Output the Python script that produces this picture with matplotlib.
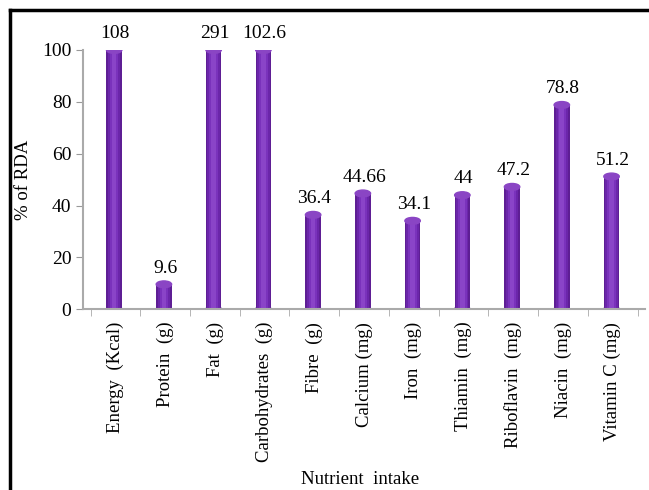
import numpy as np
import matplotlib.pyplot as plt
from matplotlib.patches import Ellipse
from matplotlib.lines import Line2D

nutrients = ["Energy  (Kcal)", "Protein  (g)", "Fat  (g)", "Carbohydrates  (g)", "Fibre  (g)",
             "Calcium (mg)", "Iron  (mg)", "Thiamin  (mg)", "Riboflavin  (mg)", "Niacin  (mg)",
             "Vitamin C (mg)"]
values = [108, 9.6, 291, 102.6, 36.4, 44.66, 34.1, 44, 47.2, 78.8, 51.2]
value_labels = ["108", "9.6", "291", "102.6", "36.4", "44.66", "34.1", "44", "47.2", "78.8", "51.2"]

plt.rcParams["font.family"] = ["Liberation Serif", "DejaVu Serif"]

fig = plt.figure(figsize=(6.49, 4.90), dpi=100)
ax = fig.add_axes([0.128, 0.369, 0.866, 0.529])

x = np.arange(len(nutrients))
heights = np.minimum(values, 100)
w = 0.31

# cylinder look: stacked bars getting lighter towards the middle
shades = [(1.00, "#5e1e94"), (0.80, "#6b26aa"), (0.55, "#7a32bc"), (0.30, "#8a44c8")]
for frac, col in shades:
    ax.bar(x - w * 0.08, heights, width=w * frac, color=col, zorder=2)
for xi, h in zip(x, heights):
    ax.add_patch(Ellipse((xi - w * 0.08, h), w, 2.6, color="#8a45c4", zorder=3))
    ax.add_patch(Ellipse((xi - w * 0.08, 0), w, 2.6, color="#5e1e94", zorder=1))

for xi, h, lab in zip(x, heights, value_labels):
    ax.text(xi, h + 3, lab, ha="center", va="bottom", fontsize=14, clip_on=False)

ax.set_xlim(-0.65, len(nutrients) - 0.35)
ax.set_ylim(0, 100)
ax.set_yticks([0, 20, 40, 60, 80, 100])
ax.tick_params(axis="y", labelsize=14, color="#999999", length=5)
ax.set_xticks(x)
ax.set_xticklabels(nutrients, rotation=90, fontsize=13.5)
ax.tick_params(axis="x", length=0, pad=9)
ax.set_xticks(np.arange(-0.5, len(nutrients)), minor=True)
ax.tick_params(axis="x", which="minor", length=5, color="#aaaaaa")

for s in ["top", "right"]:
    ax.spines[s].set_visible(False)
ax.spines["left"].set_color("#aaaaaa")
ax.spines["bottom"].set_color("#aaaaaa")
ax.spines["left"].set_linewidth(1.5)
ax.spines["bottom"].set_linewidth(1.5)

ax.set_ylabel("% of RDA", fontsize=13.5)
ax.yaxis.set_label_coords(-0.09, 0.5)
fig.text(0.555, 0.012, "Nutrient  intake", ha="center", fontsize=13.5)

# frame (top and left visible)
fig.add_artist(Line2D([10 / 649, 10 / 649], [0, 1 - 10.5 / 490], transform=fig.transFigure, color="black", lw=2.5))
fig.add_artist(Line2D([10 / 649, 1], [1 - 10.5 / 490, 1 - 10.5 / 490], transform=fig.transFigure, color="black", lw=2.5))

fig.savefig("out.png", dpi=100)
